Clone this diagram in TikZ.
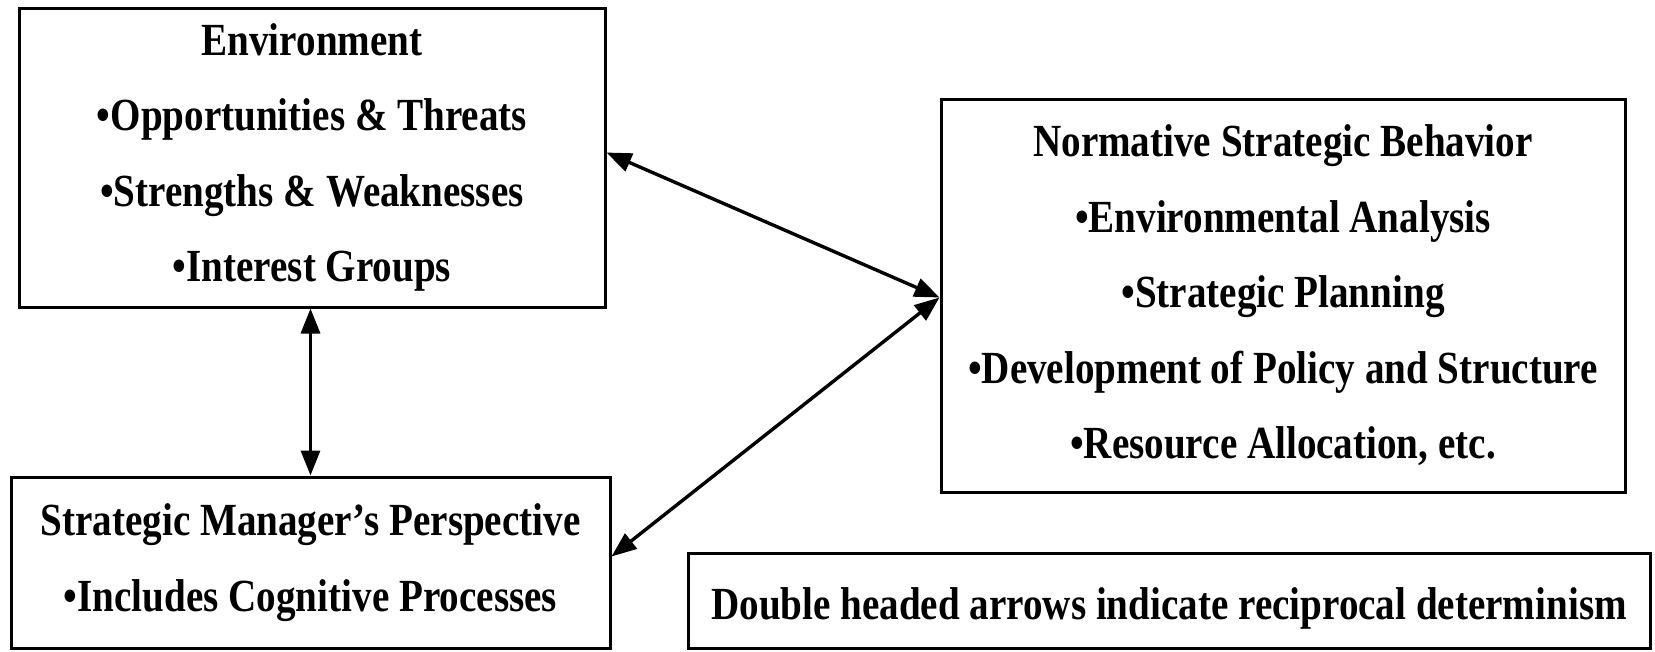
\documentclass[tikz,border=0pt]{standalone}
\usepackage{fontspec}
\setmainfont{Liberation Serif}
\newfontfamily\condserif[FakeStretch=0.85]{Liberation Serif}
\usetikzlibrary{arrows.meta}
\tikzset{
  box/.style={draw=black, line width=3pt, rectangle, inner sep=0pt, align=center,
              font=\condserif\bfseries\fontsize{46}{75.5}\selectfont},
  link/.style={line width=3.4pt, {Triangle[length=25pt,width=19pt]}-{Triangle[length=25pt,width=19pt]}}
}
\begin{document}
\begin{tikzpicture}[x=1pt,y=-1pt]
\useasboundingbox (0,0) rectangle (1655,651);
% boxes, placed by their centres and sizes
\node[box, minimum width=586pt, minimum height=299pt] (env) at (312,157.5)
  {Environment\\\textbullet Opportunities \& Threats\\\textbullet Strengths \& Weaknesses\\\textbullet Interest Groups};
\node[box, minimum width=684pt, minimum height=393pt] (norm) at (1283,295.5)
  {Normative Strategic Behavior\\\textbullet Environmental Analysis\\\textbullet Strategic Planning\\\textbullet Development of Policy and Structure\\\textbullet Resource Allocation, etc.};
\node[box, minimum width=599pt, minimum height=171pt] (smp) at (310.5,562.5)
  {Strategic Manager’s Perspective\\\textbullet Includes Cognitive Processes};
% the note's baseline sits a little below its box centre
\node[box, minimum width=962pt, minimum height=95pt] (note) at (1169,600.5)
  {\smash{\raisebox{-19pt}{Double headed arrows indicate reciprocal determinism}}};
% attachment points on the box borders
\coordinate (envR) at ([yshift=-146pt]env.north east);
\coordinate (normL) at ([yshift=-200pt]norm.north west);
\coordinate (smpR) at ([yshift=-81pt]smp.north east);
% reciprocal links
\draw[link] (env.south -| smp.north) -- (smp.north);
\draw[link] (envR) -- (normL);
\draw[link] (smpR) -- (normL);
\end{tikzpicture}
\end{document}
